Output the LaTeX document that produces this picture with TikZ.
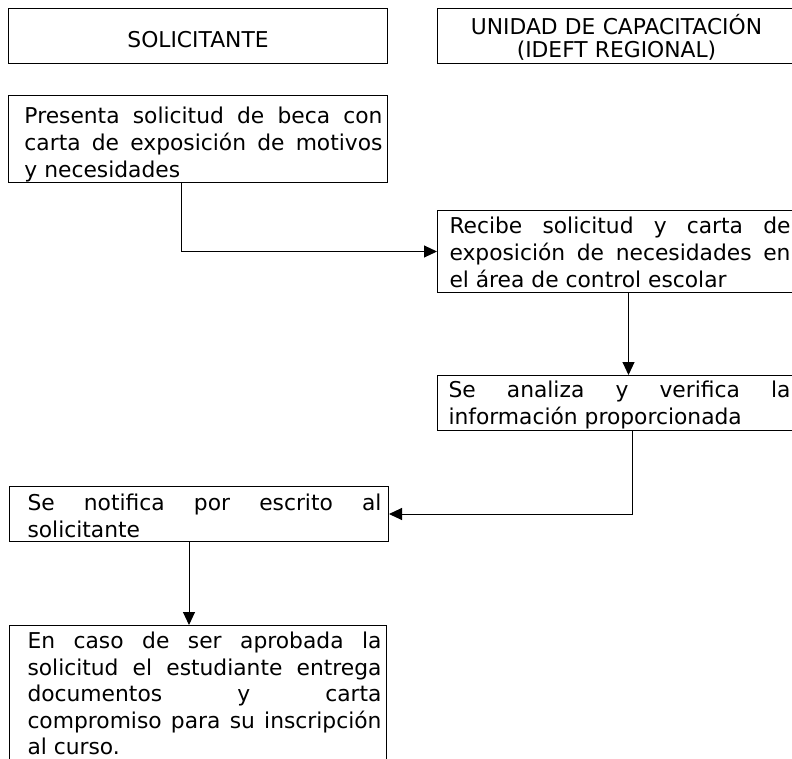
\documentclass[tikz,border=0pt]{standalone}
\usepackage{fontspec}
\setmainfont{DejaVu Sans}
\usetikzlibrary{arrows.meta}
\hyphenpenalty=10000
\hbadness=10000

\begin{document}
\begin{tikzpicture}[x=1pt, y=-1pt,
        cabecera/.style={draw, line width=1pt, anchor=north west, inner sep=0pt,
            align=center, font={\fontsize{21.8}{23}\selectfont}},
        caja/.style={draw, line width=1pt, anchor=north west, inner sep=0pt,
            align=justify, font={\fontsize{21.8}{26.8}\selectfont}},
        margen/.style 2 args={execute at begin node={\leftskip=#1pt\rightskip=#2pt}},
        flecha/.style={line width=1pt, -{Triangle[length=13pt, width=12pt]}}]
    \useasboundingbox (0,0) rectangle (792,758);
    \clip (0,0) rectangle (792,758);

    % encabezados
    \node[cabecera, text width=379pt, text height=39pt, text depth=16pt] (solicitante) at (8,8) {SOLICITANTE};
    \node[cabecera, text width=358pt, text height=26pt, text depth=29pt] (unidad) at (437,8) {UNIDAD DE CAPACITACIÓN\\(IDEFT REGIONAL)};

    % pasos
    \node[caja, margen={16}{5}, text width=379pt, text height=28pt, text depth=59pt] (presenta) at (8,95)
        {Presenta solicitud de beca con\linebreak carta de exposición de motivos\linebreak y necesidades};
    \node[caja, margen={12}{5}, text width=358pt, text height=23pt, text depth=59pt] (recibe) at (437,210)
        {Recibe solicitud y carta de\linebreak exposición de necesidades en\linebreak el área de control escolar};
    \node[caja, margen={11}{5}, text width=358pt, text height=22pt, text depth=33pt] (analiza) at (437,375)
        {Se analiza y verifica la\linebreak información proporcionada};
    \node[caja, margen={18}{7}, text width=379pt, text height=24pt, text depth=31pt] (notifica) at (9,486)
        {Se notifica por escrito al\linebreak solicitante};
    \node[caja, margen={18}{5}, text width=377pt, text height=23pt, text depth=112pt,
          font={\fontsize{21.8}{26.5}\selectfont}] (caso) at (9,625)
        {En caso de ser aprobada la\linebreak solicitud el estudiante entrega\linebreak documentos y carta\linebreak compromiso para su inscripción\linebreak al curso.};

    % flechas
    \draw[flecha] ([xshift=-16.5pt]presenta.south) |- (recibe.west);
    \draw[flecha] ([xshift=12pt]recibe.south) -- ([xshift=12pt]analiza.north);
    \draw[flecha] ([xshift=16pt]analiza.south) |- (notifica.east);
    \draw[flecha] ([xshift=-10pt]notifica.south) -- ([xshift=-9pt]caso.north);
\end{tikzpicture}
\end{document}
